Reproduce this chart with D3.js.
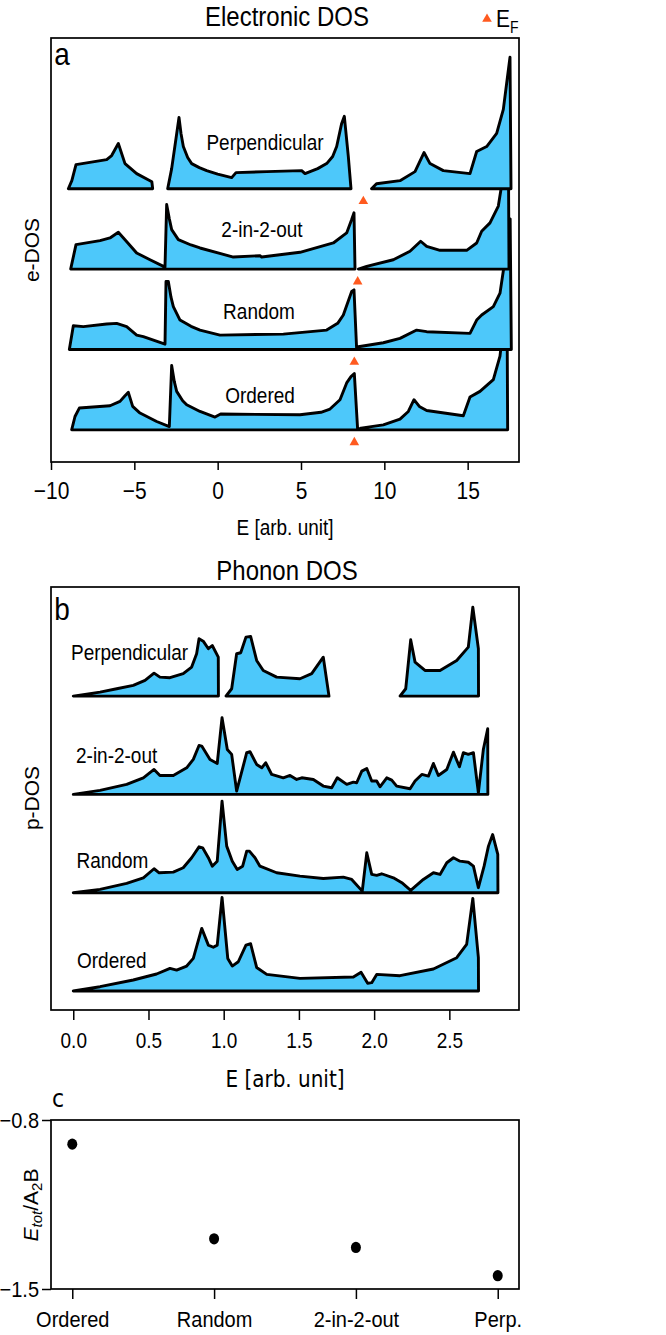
<!DOCTYPE html>
<html><head><meta charset="utf-8">
<script src="https://cdn.jsdelivr.net/npm/d3@7"></script>
<style>
body{margin:0;background:#fff;}
svg{display:block;}
text{font-family:"Liberation Sans",Arial,sans-serif;fill:#000;}
.dv{font-family:"DejaVu Sans",sans-serif;}
</style>
</head><body>
<script>
// ---------------- DATA ----------------
// Electronic DOS: each curve = list of segments of [E, DOS]
const eCurveNames = ["Ordered","Random","2-in-2-out","Perpendicular"];
const eOrdered = [[
 [-8.76,0],[-8.56,1.33],[-8.3,2.17],[-6.46,2.4],[-5.86,2.83],[-5.56,3.4],[-5.36,3.73],[-5.1,2.33],[-4.66,1.67],[-3.66,0.83],[-2.9,0.33],
 [-2.76,6.4],[-2.6,4.8],[-2.46,3.83],[-2.1,2.9],[-1.86,2.5],[-1.06,1.83],[-0.16,1.27],[0.18,1.57],[4.94,1.5],[6.2,1.75],[6.74,2.07],[7.34,3.0],[7.74,4.67],[8.0,5.3],[8.2,5.6],[8.4,0],
 [8.6,0.17],[9.94,0.5],[10.94,1.07],[11.44,1.83],[11.78,3.0],[12.1,2.33],[12.54,1.93],[14.74,1.4],[15.14,3.27],[15.74,3.83],[16.54,5.0],[16.94,7.33],[17.14,10.3],[17.3,12.8],[17.36,13.1],[17.4,0]
]];
const eRandom = [[
 [-8.9,0],[-8.66,2.36],[-8.06,2.27],[-6.66,2.53],[-6.06,2.6],[-5.46,2.27],[-4.86,1.43],[-4.46,1.27],[-3.16,0.53],
 [-3.1,6.77],[-2.96,6.77],[-2.8,5.2],[-2.66,4.27],[-2.26,2.93],[-1.6,2.3],[-1.06,1.93],[0.14,1.43],[3.94,1.53],[6.54,1.93],[7.2,2.6],[7.54,3.43],[8.04,5.77],[8.18,5.93],[8.34,0],
 [8.44,0.27],[9.94,0.67],[10.94,1.1],[11.94,1.93],[12.54,1.77],[15.14,1.6],[15.54,2.93],[15.84,3.43],[16.54,4.27],[16.94,5.6],[17.2,8.5],[17.4,11.5],[17.55,13.0],[17.62,0]
]];
const e2in2out = [[
 [-8.82,0],[-8.5,2.43],[-7.06,2.83],[-6.46,3.1],[-5.96,3.66],[-5.56,2.93],[-4.86,1.6],[-4.06,0.93],[-3.16,0.2],
 [-3.06,6.43],[-2.9,5.0],[-2.76,3.93],[-2.36,2.93],[-1.6,2.4],[-1.06,2.1],[0.94,1.2],[2.54,1.33],[2.64,1.2],[4.94,1.67],[6.94,2.6],[7.74,3.6],[8.04,4.93],[8.18,5.6],[8.24,0]
],[
 [8.44,0],[8.94,0.27],[10.54,0.93],[11.54,1.77],[12.18,2.77],[12.54,2.27],[13.34,1.87],[14.94,1.87],[15.54,2.6],[15.84,3.77],[16.34,4.6],[16.84,6.27],[17.1,9.0],[17.3,12.0],[17.44,13.0],[17.48,0]
]];
const ePerp = [[
 [-8.96,0],[-8.75,0.8],[-8.5,2.4],[-6.66,2.9],[-6.36,3.3],[-5.96,4.5],[-5.56,2.5],[-4.86,1.5],[-4.06,0.8],[-3.95,0.7],[-3.9,0]
],[
 [-3.0,0],[-2.76,2.0],[-2.5,5.0],[-2.32,7.1],[-2.2,5.5],[-2.06,4.2],[-1.8,3.1],[-1.56,2.5],[-1.1,2.1],[-0.66,1.8],[0.0,1.45],[0.84,1.1],[1.1,1.6],[2.94,1.7],[5.04,1.8],[5.24,1.5],[6.0,2.0],[6.54,2.5],[6.9,3.2],[7.14,4.2],[7.44,6.5],[7.6,7.2],[7.84,3.2],[8.0,0]
],[
 [9.23,0],[9.53,0.5],[10.94,0.8],[11.84,1.7],[12.38,3.6],[12.74,2.5],[13.54,1.8],[15.14,1.5],[15.54,3.7],[16.14,4.2],[16.74,5.5],[17.14,7.9],[17.34,10.5],[17.54,13.1],[17.6,0]
]];
const eCurves = [eOrdered, eRandom, e2in2out, ePerp];
const eOffsets = [0, 8, 16, 24];
const fermiLevels = [8.2, 8.2, 8.4, 8.74];
const eTicks = [-10,-5,0,5,10,15];

// Phonon DOS
const pOrdered = [[
 [0,0],[0.178,0.44],[0.399,1.12],[0.554,1.73],[0.643,2.3],[0.687,2.13],[0.754,2.54],[0.798,3.32],[0.854,6.37],[0.898,4.67],[0.931,4.45],[0.957,4.67],[0.989,9.52],
 [1.027,3.32],[1.057,2.54],[1.097,2.98],[1.148,4.67],[1.179,4.81],[1.219,2.4],[1.286,1.69],[1.507,1.29],[1.862,1.42],[1.913,1.9],[1.957,0.78],[1.984,0.85],[2.017,1.69],
 [2.172,1.56],[2.394,2.24],[2.549,3.39],[2.615,4.74],[2.656,9.42],[2.693,3.39],[2.694,0]
]];
const pRandom = [[
 [0,0],[0.178,0.34],[0.355,0.95],[0.466,1.52],[0.537,2.44],[0.571,2.03],[0.665,2.1],[0.731,2.54],[0.787,3.56],[0.836,4.67],[0.86,4.57],[0.898,3.56],[0.924,2.7],[0.957,3.21],
 [0.989,9.31],[1.02,4.74],[1.057,3.21],[1.09,2.37],[1.126,2.7],[1.153,4.23],[1.171,4.23],[1.208,3.56],[1.241,2.7],[1.352,2.03],[1.507,1.69],[1.662,1.45],[1.795,1.59],[1.851,1.35],
 [1.921,0.16],[1.951,4.06],[1.984,1.86],[2.017,1.76],[2.05,1.93],[2.128,1.52],[2.184,1.02],[2.243,0.24],[2.327,1.35],[2.394,2.03],[2.438,1.86],[2.483,3.05],[2.527,3.56],
 [2.571,3.21],[2.626,3.1],[2.66,2.7],[2.693,0.51],[2.731,2.7],[2.76,4.74],[2.788,5.92],[2.822,3.89],[2.823,0]
]];
const p2in2out = [[
 [0,0],[0.178,0.41],[0.355,1.02],[0.466,1.69],[0.537,2.54],[0.576,1.93],[0.665,1.93],[0.754,2.71],[0.798,3.56],[0.836,4.98],[0.854,4.92],[0.909,3.56],[0.957,3.15],
 [0.989,7.8],[1.024,4.57],[1.053,4.07],[1.086,0.34],[1.153,4.24],[1.175,4.34],[1.219,3.05],[1.253,2.71],[1.279,3.22],[1.319,2.03],[1.396,1.69],[1.441,1.93],[1.485,1.52],
 [1.519,1.69],[1.596,1.52],[1.662,0.85],[1.718,0.68],[1.755,1.69],[1.818,1.02],[1.862,1.25],[1.884,1.19],[1.918,2.37],[1.951,2.64],[1.984,1.36],[2.017,1.36],[2.039,0.78],
 [2.084,1.69],[2.117,1.46],[2.15,0.85],[2.239,0.58],[2.272,1.36],[2.317,2.03],[2.361,1.86],[2.394,3.15],[2.427,1.93],[2.483,2.54],[2.527,4.3],[2.567,2.81],[2.593,4.24],
 [2.626,4.07],[2.66,4.24],[2.693,0.17],[2.726,4.57],[2.755,6.68],[2.756,0]
]];
const pPerp = [[
 [0,0],[0.178,0.41],[0.289,0.75],[0.399,1.09],[0.477,1.6],[0.537,2.34],[0.576,1.93],[0.643,1.87],[0.731,2.28],[0.787,2.95],[0.82,4.31],[0.836,5.83],[0.864,5.59],
 [0.898,4.82],[0.924,5.15],[0.964,3.96],[0.965,0]
],[
 [1.015,0],[1.053,0.75],[1.086,4.31],[1.113,4.41],[1.148,6.0],[1.179,6.07],[1.219,3.63],[1.263,2.61],[1.352,1.93],[1.507,1.77],[1.585,2.28],[1.662,3.96],[1.7,0]
],[
 [2.172,0],[2.21,0.75],[2.243,5.73],[2.272,3.46],[2.338,2.61],[2.438,2.61],[2.549,3.63],[2.626,4.98],[2.656,9.05],[2.693,4.82],[2.694,0]
]];
const pCurves = [pOrdered, pRandom, p2in2out, pPerp];
const pOffsets = [0, 10, 20, 30];
const pTicks = [0.0,0.5,1.0,1.5,2.0,2.5];

// Total energy
const cCategories = ["Ordered","Random","2-in-2-out","Perp."];
const cValues = [-0.90, -1.292, -1.328, -1.445];
const cYTicks = [-0.8, -1.5];

// ---------------- DRAW ----------------
const W = 666, H = 1335;
const svg = d3.select("body").append("svg").attr("width", W).attr("height", H);
const FILL = "#4dc8fa", ORANGE = "#ff5a1f";
const L = 51, R = 519;
const SW = 2.9;
const minus = s => String(s).replace("-", "\u2212");
const SY = 1.12;
function stretch(sel){
  sel.each(function(){
    const t = d3.select(this);
    const x = +t.attr("x") || 0, y = +t.attr("y") || 0;
    const prev = t.attr("transform") || "";
    t.attr("transform", `${prev} translate(${x},${y}) scale(1,${SY}) translate(${-x},${-y})`);
  });
}

// ---- Panel a ----
const aTop = 38, aBot = 462;
const xa = d3.scaleLinear().domain([-10, 18.08]).range([L, R]);
const ya = d3.scaleLinear().domain([-3.2, 39]).range([aBot, aTop]);
stretch(svg.append("text").attr("x", 287).attr("y", 26).attr("text-anchor","middle").attr("font-size", 24).text("Electronic DOS"));
// legend
svg.append("path").attr("d", d3.symbol(d3.symbolTriangle, 40)()).attr("transform","translate(487,19)").attr("fill", ORANGE);
const leg = svg.append("text").attr("x", 496).attr("y", 27).attr("font-size", 21);
leg.append("tspan").text("E");
leg.append("tspan").attr("font-size", 14).attr("dy", 5).text("F");
stretch(leg);

const ga = svg.append("g");
for (let i = 0; i < eCurves.length; i++) {
  const off = eOffsets[i];
  const area = d3.area().x(d => xa(d[0])).y0(ya(off)).y1(d => ya(off + d[1]));
  eCurves[i].forEach(seg => {
    ga.append("path").attr("d", area(seg)).attr("fill", FILL).attr("stroke","#000")
      .attr("stroke-width", SW).attr("stroke-linejoin","round");
  });
  ga.append("path").attr("d", d3.symbol(d3.symbolTriangle, 40)())
    .attr("transform", `translate(${xa(fermiLevels[i])},${ya(off - 1.25)})`).attr("fill", ORANGE);
}
const eLabelPos = [[260, 403],[259, 319],[262, 237],[265, 150]];
eCurveNames.forEach((n,i)=>{
  stretch(svg.append("text").attr("x", eLabelPos[i][0]).attr("y", eLabelPos[i][1]).attr("text-anchor","middle").attr("font-size", 19).text(n));
});
svg.append("rect").attr("x", L).attr("y", aTop).attr("width", R-L).attr("height", aBot-aTop).attr("fill","none").attr("stroke","#000").attr("stroke-width",1.7);
stretch(svg.append("text").attr("x", 62).attr("y", 65).attr("text-anchor","middle").attr("font-size", 28).text("a"));
const axA = svg.append("g").attr("transform", `translate(0,${aBot})`).call(d3.axisBottom(xa).tickValues(eTicks).tickSize(8).tickPadding(12).tickFormat(d=>minus(d)));
axA.select(".domain").remove();
axA.selectAll("line").attr("stroke-width",1.5);
axA.selectAll("text").attr("font-size",21).attr("font-family","Liberation Sans, Arial, sans-serif").call(stretch);
stretch(svg.append("text").attr("x", 285).attr("y", 535).attr("text-anchor","middle").attr("font-size", 19).text("E [arb. unit]"));
svg.append("text").attr("transform","translate(39,250) rotate(-90)").attr("text-anchor","middle").attr("font-size", 21).text("e-DOS");

// ---- Panel b ----
const bTop = 587, bBot = 1010;
const xb = d3.scaleLinear().domain([-0.148, 2.963]).range([L, R]);
const yb = d3.scaleLinear().domain([-1.93, 41.1]).range([bBot, bTop]);
stretch(svg.append("text").attr("x", 287).attr("y", 580).attr("text-anchor","middle").attr("font-size", 24).text("Phonon DOS"));
const gb = svg.append("g");
for (let i = 0; i < pCurves.length; i++) {
  const off = pOffsets[i];
  const area = d3.area().x(d => xb(d[0])).y0(yb(off)).y1(d => yb(off + d[1]));
  pCurves[i].forEach(seg => {
    gb.append("path").attr("d", area(seg)).attr("fill", FILL).attr("stroke","#000")
      .attr("stroke-width", SW).attr("stroke-linejoin","round");
  });
}
const pLabelPos = [[77, 968],[76.5, 868],[76, 763],[71, 660]];
eCurveNames.forEach((n,i)=>{
  stretch(svg.append("text").attr("x", pLabelPos[i][0]).attr("y", pLabelPos[i][1]).attr("font-size", 19).text(n));
});
svg.append("rect").attr("x", L).attr("y", bTop).attr("width", R-L).attr("height", bBot-bTop).attr("fill","none").attr("stroke","#000").attr("stroke-width",1.7);
stretch(svg.append("text").attr("x", 62).attr("y", 620).attr("text-anchor","middle").attr("font-size", 28).text("b"));
const axB = svg.append("g").attr("transform", `translate(0,${bBot})`).call(d3.axisBottom(xb).tickValues(pTicks).tickSize(10).tickPadding(13).tickFormat(d3.format(".1f")));
axB.select(".domain").remove();
axB.selectAll("line").attr("stroke-width",1.5);
axB.selectAll("text").attr("font-size",19).attr("font-family","DejaVu Sans, sans-serif").call(stretch);
stretch(svg.append("text").attr("class","dv").attr("x", 285).attr("y", 1087).attr("text-anchor","middle").attr("font-size", 20).text("E [arb. unit]"));
svg.append("text").attr("transform","translate(39,798) rotate(-90)").attr("text-anchor","middle").attr("font-size", 21).text("p-DOS");

// ---- Panel c ----
const cTop = 1120, cBot = 1289;
const xc = d3.scaleLinear().domain([-0.15, 3.15]).range([L, R]);
const yc = d3.scaleLinear().domain([-1.5, -0.8]).range([cBot, cTop]);
stretch(svg.append("text").attr("class","dv").attr("x", 58).attr("y", 1107).attr("text-anchor","middle").attr("font-size", 22).text("c"));
svg.append("g").selectAll("ellipse").data(cValues).join("ellipse")
  .attr("cx",(d,i)=>xc(i)).attr("cy", d=>yc(d)).attr("rx", 5).attr("ry", 5.6).attr("fill","#000");
svg.append("rect").attr("x", L).attr("y", cTop).attr("width", R-L).attr("height", cBot-cTop).attr("fill","none").attr("stroke","#000").attr("stroke-width",1.7);
const axCx = svg.append("g").attr("transform", `translate(0,${cBot})`).call(d3.axisBottom(xc).tickValues([0,1,2,3]).tickSize(10).tickPadding(12).tickFormat(i=>cCategories[i]));
axCx.select(".domain").remove();
axCx.selectAll("line").attr("stroke-width",1.5);
axCx.selectAll("text").attr("font-size",20).attr("font-family","Liberation Sans, Arial, sans-serif").call(stretch);
const axCy = svg.append("g").attr("transform", `translate(${L},0)`).call(d3.axisLeft(yc).tickValues(cYTicks).tickSize(9).tickPadding(3).tickFormat(d=>minus(d3.format(".1f")(d))));
axCy.select(".domain").remove();
axCy.selectAll("line").attr("stroke-width",1.5);
axCy.selectAll("text").attr("font-size",20).attr("font-family","Liberation Sans, Arial, sans-serif").call(stretch);
const yl = svg.append("text").attr("transform","translate(38,1205) rotate(-90)").attr("text-anchor","middle").attr("font-size", 21);
yl.append("tspan").attr("font-style","italic").text("E");
yl.append("tspan").attr("font-style","italic").attr("font-size",15).attr("dy",4).text("tot");
yl.append("tspan").attr("dy",-4).text("/A");
yl.append("tspan").attr("font-size",15).attr("dy",4).text("2");
yl.append("tspan").attr("dy",-4).text("B");
</script>
</body></html>
